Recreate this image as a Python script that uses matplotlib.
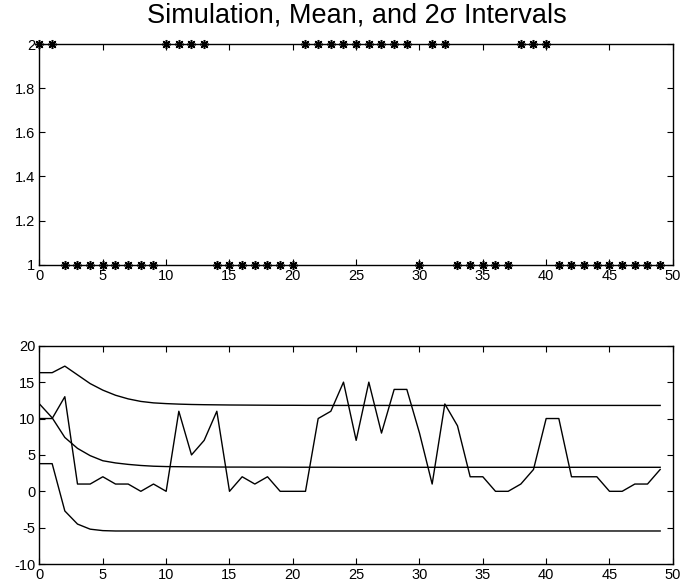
import matplotlib
matplotlib.use("Agg")
from matplotlib import pyplot as plt

plt.rcParams['font.family'] = ['Liberation Sans', 'DejaVu Sans']
plt.rcParams['axes.unicode_minus'] = False

# hidden state sequence (top panel)
t = list(range(50))
state = [2, 2, 1, 1, 1, 1, 1, 1, 1, 1,
         2, 2, 2, 2, 1, 1, 1, 1, 1, 1,
         1, 2, 2, 2, 2, 2, 2, 2, 2, 2,
         1, 2, 2, 1, 1, 1, 1, 1, 2, 2,
         2, 1, 1, 1, 1, 1, 1, 1, 1, 1]

# simulated observations (bottom panel)
obs = [10, 10, 13, 1, 1, 2, 1, 1, 0, 1,
       0, 11, 5, 7, 11, 0, 2, 1, 2, 0,
       0, 0, 10, 11, 15, 7, 15, 8, 14, 14,
       8, 1, 12, 9, 2, 2, 0, 0, 1, 3,
       10, 10, 2, 2, 2, 0, 0, 1, 1, 3]

# mean and 2-sigma bands
mean = [12.0, 10.1, 7.4, 5.9, 4.9, 4.2, 3.9, 3.7, 3.55, 3.45,
        3.4, 3.38, 3.36, 3.35, 3.34, 3.33, 3.33, 3.32, 3.32, 3.32,
        3.31, 3.31, 3.31, 3.31, 3.3, 3.3, 3.3, 3.3, 3.3, 3.3,
        3.3, 3.3, 3.3, 3.3, 3.3, 3.3, 3.3, 3.3, 3.3, 3.3,
        3.3, 3.3, 3.3, 3.3, 3.3, 3.3, 3.3, 3.3, 3.3, 3.3]
upper = [16.3, 16.3, 17.2, 16.0, 14.8, 13.9, 13.2, 12.7, 12.35, 12.15,
         12.05, 11.98, 11.93, 11.9, 11.88, 11.86, 11.85, 11.84, 11.83, 11.82,
         11.82, 11.81, 11.81, 11.8, 11.8, 11.8, 11.8, 11.8, 11.8, 11.8,
         11.8, 11.8, 11.8, 11.8, 11.8, 11.8, 11.8, 11.8, 11.8, 11.8,
         11.8, 11.8, 11.8, 11.8, 11.8, 11.8, 11.8, 11.8, 11.8, 11.8]
lower = [3.8, 3.8, -2.7, -4.5, -5.2, -5.4, -5.45, -5.45, -5.45, -5.45,
         -5.45, -5.45, -5.45, -5.45, -5.45, -5.45, -5.45, -5.45, -5.45, -5.45,
         -5.45, -5.45, -5.45, -5.45, -5.45, -5.45, -5.45, -5.45, -5.45, -5.45,
         -5.45, -5.45, -5.45, -5.45, -5.45, -5.45, -5.45, -5.45, -5.45, -5.45,
         -5.45, -5.45, -5.45, -5.45, -5.45, -5.45, -5.45, -5.45, -5.45, -5.45]

fig = plt.figure(figsize=(6.81, 5.87), dpi=100)
ax1 = fig.add_axes([0.058, 0.549, 0.930, 0.376])
ax2 = fig.add_axes([0.058, 0.039, 0.930, 0.372])

# asterisk markers like matlab's '*'
ax1.plot(t, state, linestyle='none', marker=(8, 2, 0), color='black',
         markersize=6.5, markeredgewidth=1.1, clip_on=False, zorder=5)
ax1.set_xlim(0, 50)
ax1.set_ylim(1, 2)
ax1.set_yticks([1, 1.2, 1.4, 1.6, 1.8, 2])
ax1.set_yticklabels(['1', '1.2', '1.4', '1.6', '1.8', '2'])
fig.text(0.524, 1 - 22 / 587, 'Simulation, Mean, and 2σ Intervals',
         fontsize=19.5, ha='center', va='baseline')

ax2.plot(t, obs, color='black', linewidth=1)
ax2.plot(t, mean, color='black', linewidth=1)
ax2.plot(t, upper, color='black', linewidth=1)
ax2.plot(t, lower, color='black', linewidth=1)
ax2.set_xlim(0, 50)
ax2.set_ylim(-10, 20)
ax2.set_yticks([-10, -5, 0, 5, 10, 15, 20])

for ax in (ax1, ax2):
    ax.set_xticks(range(0, 51, 5))
    ax.tick_params(direction='in', top=True, right=True, length=4,
                   labelsize=10.5, pad=3, width=0.8)
    for s in ax.spines.values():
        s.set_linewidth(1)

fig.savefig('out.png', dpi=100)
